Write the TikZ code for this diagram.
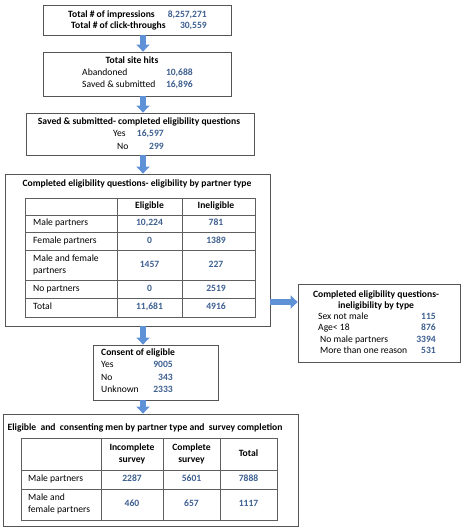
\documentclass[tikz,border=0pt]{standalone}
\usepackage{fontspec}
\setmainfont{Carlito}
\usetikzlibrary{arrows.meta,shadows}
\definecolor{numblue}{RGB}{62,96,145}
\definecolor{boxgray}{RGB}{85,85,85}
\definecolor{arrowblue}{RGB}{95,145,215}
\definecolor{gridgray}{RGB}{95,95,95}
\newcommand{\fs}{\fontsize{9.6}{11}\selectfont}
\begin{document}
\begin{tikzpicture}[x=1pt,y=-1pt,
  box/.style={draw=boxgray, fill=white, line width=0.8pt, inner sep=0pt,
    drop shadow={shadow xshift=1.2pt,shadow yshift=-1.2pt,opacity=0.25,fill=black}},
  lbl/.style={inner sep=0pt, text height=6.5pt, text depth=2pt, text=black, font=\fs},
  ttl/.style={lbl, font=\fs\bfseries},
  num/.style={lbl, font=\fs\bfseries, text=numblue},
  twol/.style={inner sep=0pt, align=left, font=\fontsize{9.6}{12.5}\selectfont},
  twoc/.style={inner sep=0pt, align=center, font=\fontsize{9.6}{12.5}\selectfont\bfseries},
  grid/.style={draw=gridgray, line width=0.9pt},
  barrow/.style={-{Triangle[width=13pt,length=7pt]}, line width=6.5pt, draw=arrowblue}]
\useasboundingbox (0,0) rectangle (468,529);
\coordinate (ax) at (143,0);
\coordinate (ay) at (0,302);

% Box 1
\node[box, minimum width=188pt, minimum height=30pt] (b1) at (137,20) {};
\node[ttl, anchor=west] (b1l1) at (68,15) {Total \# of impressions};
\node[num, anchor=east] (b1n1) at (207,15) {8,257,271};
\node[ttl, anchor=west] (b1l2) at (71,26) {Total \# of click-throughs};
\node[num, anchor=east] (b1n2) at (207,26) {30,559};

% Box 2
\node[box, minimum width=188pt, minimum height=44pt] (b2) at (137,74) {};
\node[ttl] (b2t) at (132,61) {Total site hits};
\node[lbl, anchor=west] (b2l1) at (82,73) {Abandoned};
\node[num, anchor=east] (b2n1) at (193,73) {10,688};
\node[lbl, anchor=west] (b2l2) at (82,85) {Saved \& submitted};
\node[num, anchor=east] (b2n2) at (193,85) {16,896};

% Box 3
\node[box, minimum width=228pt, minimum height=42pt] (b3) at (140,134) {};
\node[ttl] (b3t) at (139,122) {Saved \& submitted- completed eligibility\ questions};
\node[lbl, anchor=west] (b3l1) at (113,134) {Yes};
\node[num, anchor=east] (b3n1) at (164,134) {16,597};
\node[lbl, anchor=west] (b3l2) at (117,147) {No};
\node[num, anchor=east] (b3n2) at (164,147) {299};

% Big box (eligibility table)
\node[box, minimum width=265pt, minimum height=152pt] (b4) at (137.5,250) {};
\node[ttl] (b4t) at (137,184) {Completed eligibility\ questions-\ eligibility\ by partner type};
\draw[grid] (25,198) rectangle (255,317);
\foreach \yy in {215,232,250,280,298} \draw[grid] (25,\yy) -- (255,\yy);
\foreach \xx in {117,182} \draw[grid] (\xx,198) -- (\xx,317);
\node[ttl] (h1) at (149.5,206.5) {Eligible};
\node[ttl] (h2) at (216,206.5) {Ineligible};
\node[lbl, anchor=west] (r1) at (33,223.5) {Male partners};
\node[num] (r1a) at (149.5,223.5) {10,224};
\node[num] (r1b) at (216,223.5) {781};
\node[lbl, anchor=west] (r2) at (33,241) {Female partners};
\node[num] (r2a) at (149.5,241) {0};
\node[num] (r2b) at (216,241) {1389};
\node[twol, anchor=west] (r3) at (33,265) {Male and female\\partners};
\node[num] (r3a) at (149.5,265) {1457};
\node[num] (r3b) at (216,265) {227};
\node[lbl, anchor=west] (r4) at (33,289) {No partners};
\node[num] (r4a) at (149.5,289) {0};
\node[num] (r4b) at (216,289) {2519};
\node[lbl, anchor=west] (r5) at (33,307.5) {Total};
\node[num] (r5a) at (149.5,307.5) {11,681};
\node[num] (r5b) at (216,307.5) {4916};

% Right box
\node[box, minimum width=162pt, minimum height=78pt] (b5) at (379,323) {};
\node[ttl] (b5t1) at (376,295) {Completed eligibility\ questions-};
\node[ttl] (b5t2) at (376,306) {ineligibility\ by type};
\node[lbl, anchor=west] (b5l1) at (318,317) {Sex not male};
\node[num, anchor=east] (b5n1) at (436,317) {115};
\node[lbl, anchor=west] (b5l2) at (318,328) {Age< 18};
\node[num, anchor=east] (b5n2) at (436,328) {876};
\node[lbl, anchor=west] (b5l3) at (320,340) {No male partners};
\node[num, anchor=east] (b5n3) at (436,340) {3394};
\node[lbl, anchor=west] (b5l4) at (320,351) {More than one reason};
\node[num, anchor=east] (b5n4) at (436,351) {531};

% Consent box
\node[box, minimum width=125pt, minimum height=55pt] (b6) at (155.5,372.5) {};
\node[ttl, anchor=west] (b6t) at (101,353) {Consent of eligible};
\node[lbl, anchor=west] (b6l1) at (101,365) {Yes};
\node[num, anchor=east] (b6n1) at (173,365) {9005};
\node[lbl, anchor=west] (b6l2) at (101,378) {No};
\node[num, anchor=east] (b6n2) at (173,378) {343};
\node[lbl, anchor=west] (b6l3) at (101,390) {Unknown};
\node[num, anchor=east] (b6n3) at (173,390) {2333};

% Bottom box
\node[box, minimum width=295pt, minimum height=112pt] (b7) at (150.5,470) {};
\node[ttl] (b7t) at (145,428) {Eligible\ \ and\ \ consenting men by partner type and\ \ survey completion};
\draw[grid] (21,438) rectangle (277,520);
\foreach \yy in {470,489} \draw[grid] (21,\yy) -- (277,\yy);
\foreach \xx in {101,163,220} \draw[grid] (\xx,438) -- (\xx,520);
\node[twoc] (c1) at (132,454) {Incomplete\\survey};
\node[twoc] (c2) at (191.5,454) {Complete\\survey};
\node[ttl] (c3) at (248.5,454) {Total};
\node[lbl, anchor=west] (s1) at (28,479.5) {Male partners};
\node[num] (s1a) at (132,479.5) {2287};
\node[num] (s1b) at (191.5,479.5) {5601};
\node[num] (s1c) at (248.5,479.5) {7888};
\node[twol, anchor=west] (s2) at (28,504) {Male and\\female partners};
\node[num] (s2a) at (132,504) {460};
\node[num] (s2b) at (191.5,504) {657};
\node[num] (s2c) at (248.5,504) {1117};

% Arrows
\draw[barrow] (b1.south -| ax) -- (b2.north -| ax);
\draw[barrow] (b2.south -| ax) -- (b3.north -| ax);
\draw[barrow] (b3.south -| ax) -- (b4.north -| ax);
\draw[barrow] (b4.east |- ay) -- (b5.west |- ay);
\draw[barrow] (b4.south -| ax) -- (b6.north -| ax);
\draw[barrow] (b6.south -| ax) -- (b7.north -| ax);
\end{tikzpicture}
\end{document}
